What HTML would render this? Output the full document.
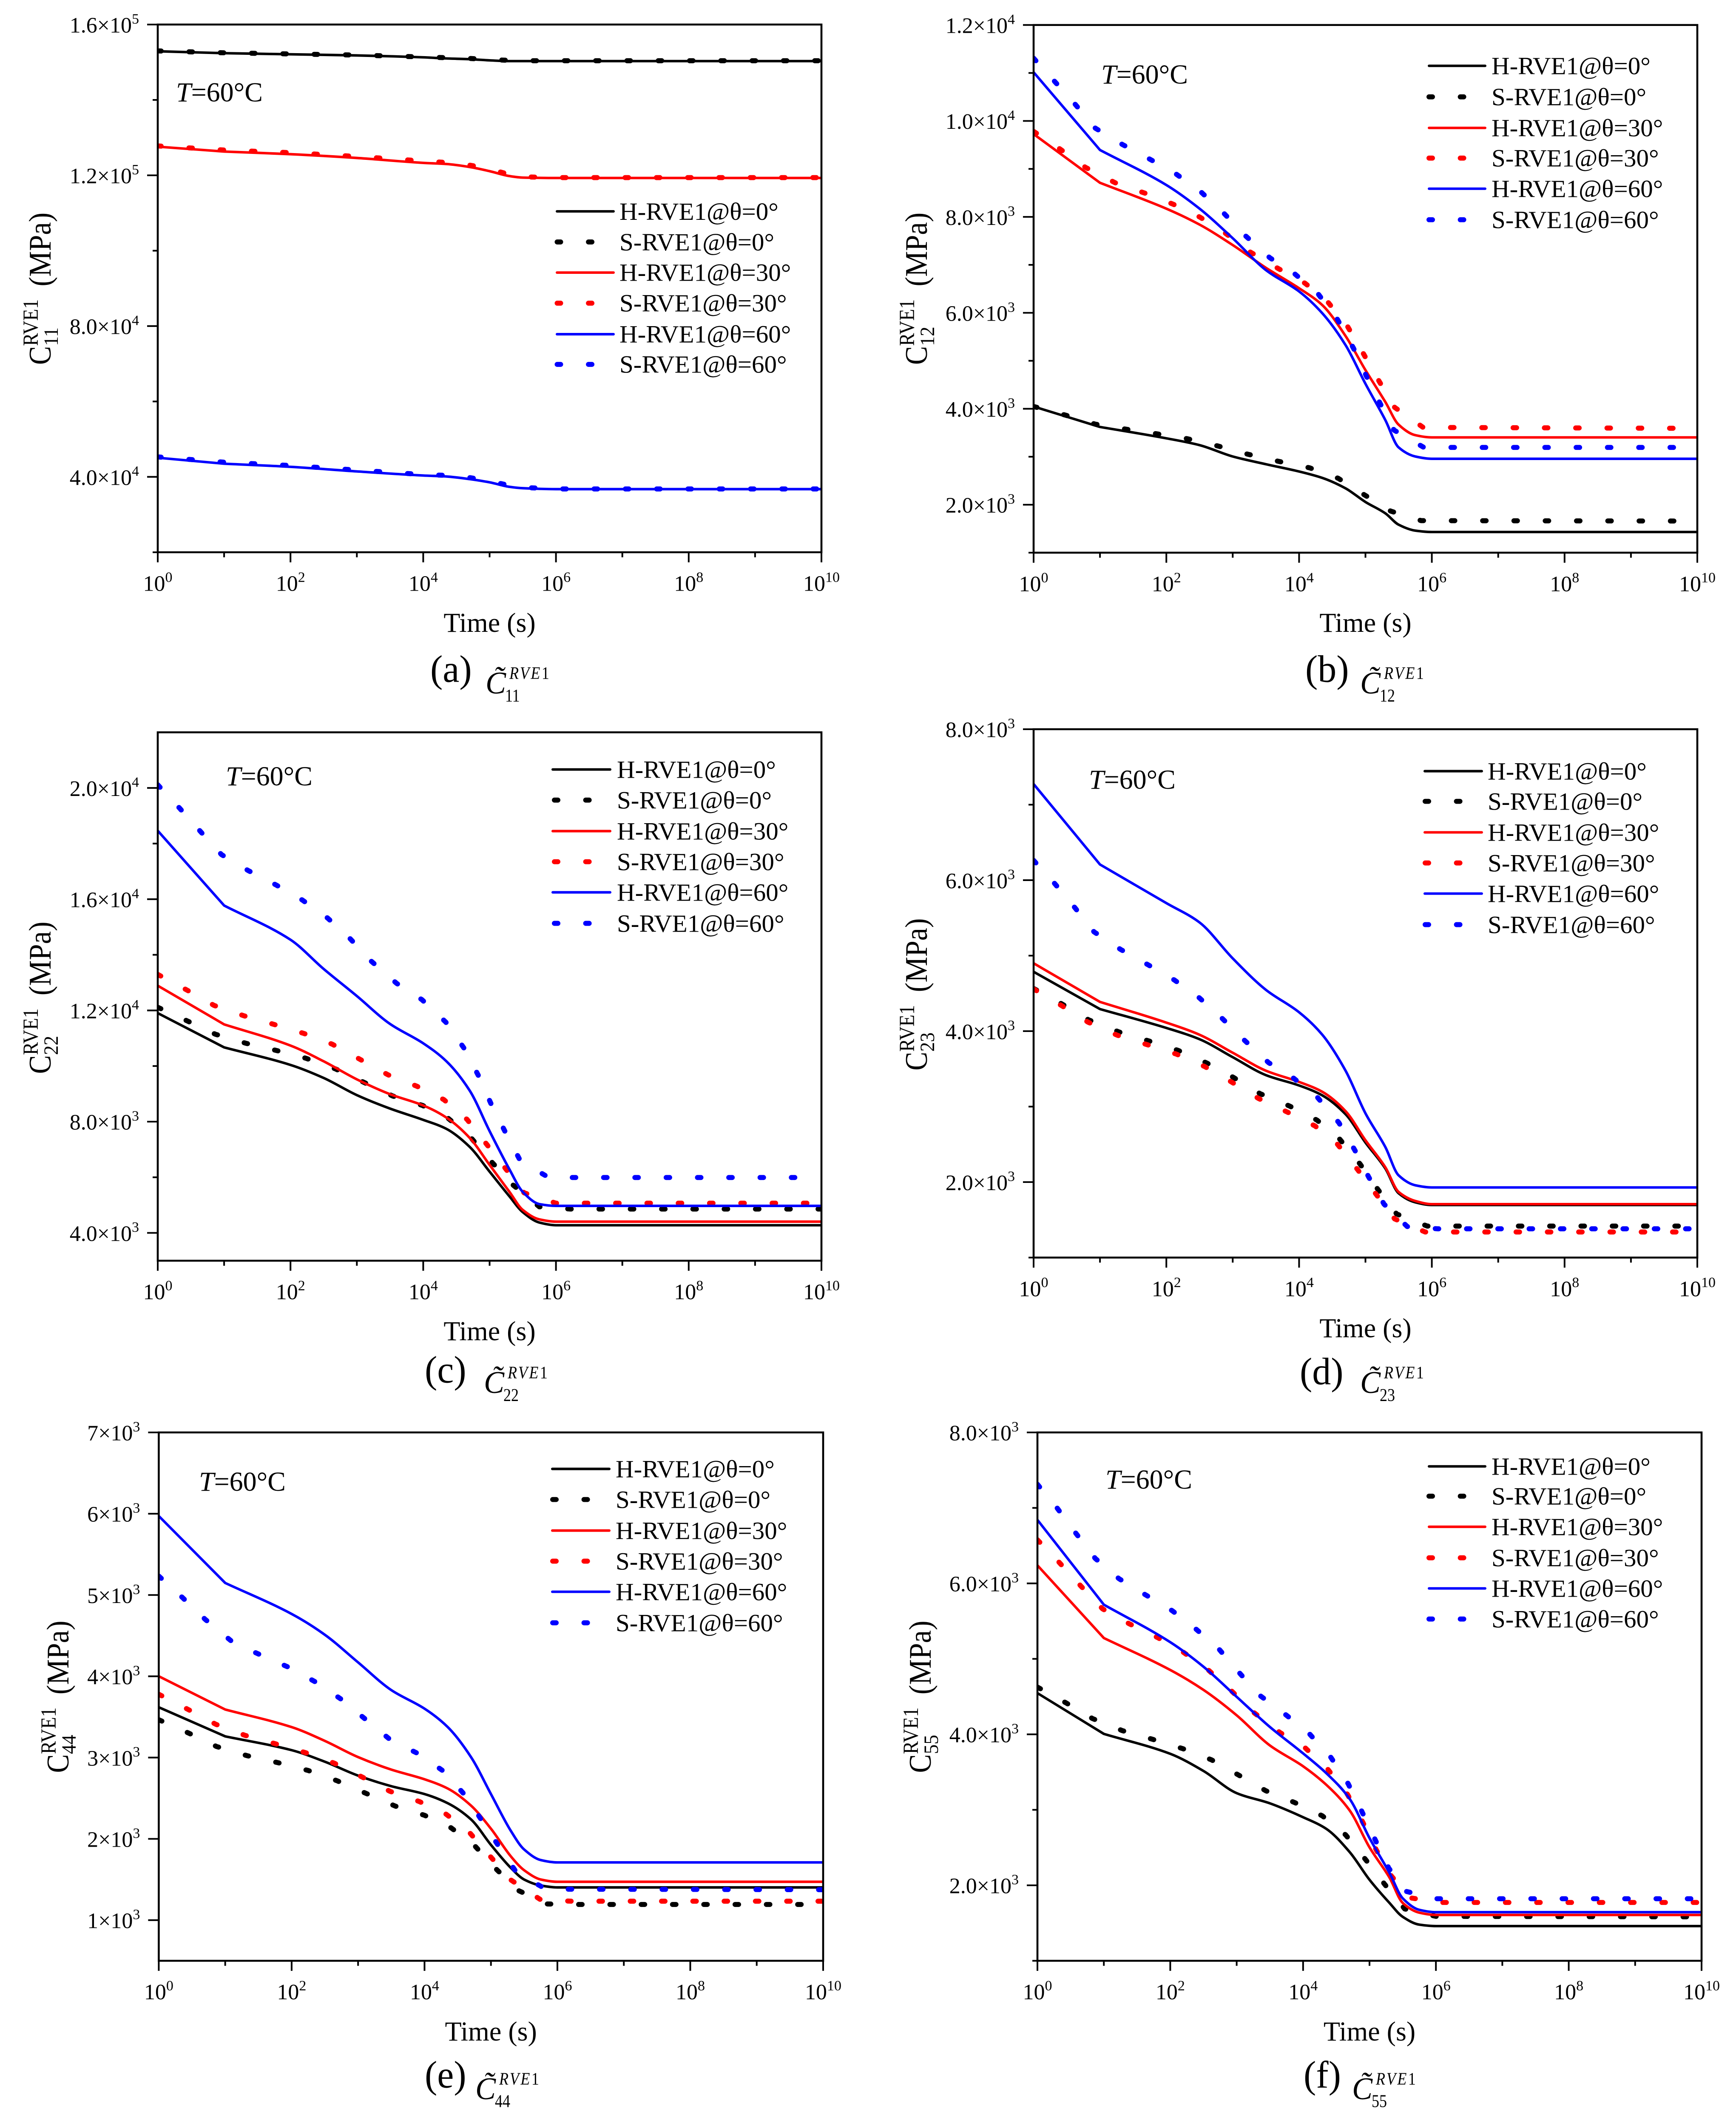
<!DOCTYPE html>
<html lang="en">
<head>
<meta charset="utf-8">
<title>RVE1 relaxation moduli at T=60°C</title>
<style>
html,body{margin:0;padding:0;background:#fff;width:100%;height:100%;overflow:hidden;}
svg{display:block;position:fixed;left:0;top:0;width:100vw;height:100vh;}
text{font-family:"Liberation Serif","DejaVu Serif",serif;fill:#000;}
</style>
</head>
<body>
<svg id="figure" xmlns="http://www.w3.org/2000/svg" viewBox="0 0 4083 5070" preserveAspectRatio="none">
<rect x="0" y="0" width="4083" height="5070" fill="#ffffff"></rect>
</svg>
<script>
/* ---------- shared axis values (time given as log10 of seconds) ---------- */
const xMajorExp = [0,2,4,6,8,10];
const xMinorExp = [1,3,5,7,9];
const gridTime = [0,1,2,2.5,3,3.5,4,4.35,4.7,5,5.3,5.5,5.75,6,10];
const legendLabels = ['H-RVE1@θ=0°','S-RVE1@θ=0°','H-RVE1@θ=30°','S-RVE1@θ=30°','H-RVE1@θ=60°','S-RVE1@θ=60°'];

/* ---------- panel a: C11 ---------- */
const a_yMajor = [40000,80000,120000,160000];
const a_yMinor = [20000,60000,100000,140000];
const a_time = [0,1,2,3,4,4.35,4.7,5,5.3,5.5,6,10];
const a_h0 = [152900,152400,152100,151800,151300,151000,150800,150500,150300,150300,150300,150300];
const a_s0 = [153000,152500,152200,151900,151400,151200,151000,150700,150500,150400,150400,150400];
const a_h30 = [127600,126300,125600,124600,123300,123000,122200,121100,119800,119400,119300,119300];
const a_s30 = [127800,126700,126000,125000,123800,123400,122700,121700,120200,119600,119400,119400];
const a_h60 = [45070,43500,42660,41450,40360,40100,39400,38550,37350,37000,36740,36740];
const a_s60 = [45300,43900,43000,41800,40600,40400,39800,38900,37700,37200,36800,36800];

/* ---------- panel b: C12 ---------- */
const b_yMajor = [2000,4000,6000,8000,10000,12000];
const b_yMinor = [1000,3000,5000,7000,9000,11000];
const b_h0 = [4047,3621,3384,3242,3005,2844,2692,2559,2341,2057,1820,1583,1460,1431,1431];
const b_h30 = [9726,8711,8171,7839,7413,6939,6512,6161,5517,4806,4142,3668,3450,3403,3403];
const b_h60 = [11015,9394,8664,8171,7555,6891,6446,5991,5327,4521,3763,3194,3005,2957,2957];
const b_s0t = [0,0.48,0.93,1.39,1.85,2.32,2.78,3.23,3.70,4.16,4.59,4.97,5.38,5.84,10];
const b_s0 = [4047,3867,3678,3574,3479,3374,3223,3052,2901,2768,2550,2218,1867,1668,1659];
const b_s30t = [0,0.40,0.78,1.23,1.68,2.10,2.51,2.89,3.26,3.69,4.09,4.42,4.73,4.97,5.20,5.44,5.87,10];
const b_s30 = [9782,9413,9033,8711,8493,8266,7991,7659,7270,6920,6616,6247,5716,5147,4588,4029,3611,3592];
const b_s60t = [0,0.31,0.63,0.93,1.34,1.75,2.15,2.52,2.86,3.18,3.56,3.94,4.29,4.58,4.82,5.01,5.22,5.43,5.88,10];
const b_s60 = [11308,10834,10342,9849,9507,9204,8891,8522,8086,7621,7147,6806,6389,5858,5261,4692,4114,3555,3194,3194];

/* ---------- panel c: C22 ---------- */
const c_yMajor = [4000,8000,12000,16000,20000];
const c_yMinor = [6000,10000,14000,18000];
const c_h0 = [11903,10672,10040,9571,8955,8470,8065,7741,7093,6202,5312,4745,4372,4275,4275];
const c_h30 = [12890,11498,10737,10170,9522,8988,8583,8146,7417,6445,5474,4826,4486,4405,4405];
const c_h60 = [18461,15773,14542,13490,12518,11514,10818,10170,9117,7660,6283,5474,5036,4972,4972];
const c_s0t = [0,0.44,0.87,1.33,1.79,2.23,2.68,3.11,3.54,3.99,4.38,4.71,5.01,5.34,5.75,6.22,10];
const c_s0 = [12113,11627,11142,10818,10559,10283,9895,9409,8923,8583,8113,7449,6607,5749,4939,4858,4858];
const c_s30t = [0,0.43,0.85,1.30,1.75,2.20,2.63,3.04,3.47,3.90,4.31,4.66,4.96,5.25,5.52,6.0,10];
const c_s30 = [13295,12745,12178,11806,11498,11174,10785,10251,9684,9279,8793,8081,7174,6283,5441,5069,5069];
const c_s60t = [0,0.33,0.64,0.96,1.37,1.79,2.18,2.56,2.90,3.22,3.60,3.98,4.34,4.62,4.84,5.03,5.24,5.46,5.89,10];
const c_s60 = [20113,19271,18445,17603,17020,16502,15967,15320,14575,13765,12971,12388,11579,10623,9619,8599,7611,6607,5992,5992];

/* ---------- panel d: C23 ---------- */
const d_yMajor = [2000,4000,6000,8000];
const d_yMinor = [1000,3000,5000,7000];
const d_h0 = [4786,4292,4042,3893,3655,3417,3280,3149,2899,2524,2179,1851,1732,1696,1696];
const d_h30 = [4899,4387,4113,3952,3714,3476,3327,3196,2940,2554,2196,1869,1750,1708,1708];
const d_h60 = [7274,6208,5696,5440,4964,4547,4250,3952,3476,2911,2464,2089,1958,1929,1929];
const d_s0t = [0,0.42,0.83,1.29,1.74,2.18,2.61,3.01,3.41,3.86,4.27,4.61,4.92,5.19,5.47,5.93,10];
const d_s0 = [4565,4363,4149,3988,3869,3744,3577,3387,3173,3006,2821,2571,2238,1899,1577,1417,1417];
const d_s30t = [0,0.42,0.82,1.26,1.71,2.15,2.58,2.98,3.39,3.82,4.24,4.58,4.88,5.16,5.44,5.90,10];
const d_s30 = [4559,4339,4119,3946,3821,3696,3530,3327,3107,2929,2744,2500,2167,1839,1512,1339,1339];
const d_s60t = [0,0.32,0.62,0.91,1.31,1.72,2.12,2.49,2.83,3.16,3.54,3.92,4.28,4.60,4.84,5.05,5.28,5.63,6.09,10];
const d_s60 = [6262,5952,5637,5315,5083,4881,4678,4446,4178,3893,3583,3375,3119,2786,2423,2065,1708,1411,1381,1381];

/* ---------- panel e: C44 ---------- */
const e_yMajor = [1000,2000,3000,4000,5000,6000,7000];
const e_yMinor = [];
const e_h0 = [3619,3261,3091,2949,2778,2648,2551,2438,2239,1926,1642,1500,1426,1403,1403];
const e_h30 = [4000,3591,3375,3205,3006,2852,2733,2619,2409,2125,1784,1614,1500,1472,1472];
const e_h60 = [5972,5148,4767,4511,4171,3830,3602,3375,3006,2551,2097,1869,1739,1710,1710];
const e_s0t = [0,0.45,0.87,1.33,1.79,2.25,2.68,3.11,3.56,4.0,4.40,4.75,5.07,5.40,5.85,6.33,10];
const e_s0 = [3466,3301,3136,3023,2938,2841,2716,2563,2403,2290,2136,1920,1636,1369,1199,1193,1193];
const e_s30t = [0,0.43,0.86,1.30,1.75,2.20,2.64,3.06,3.48,3.92,4.31,4.67,4.99,5.30,5.75,6.21,10];
const e_s30 = [3779,3597,3409,3273,3171,3063,2932,2761,2585,2460,2313,2085,1784,1494,1250,1233,1233];
const e_s60t = [0,0.36,0.70,1.12,1.55,1.98,2.38,2.76,3.11,3.49,3.91,4.29,4.62,4.88,5.14,5.39,5.83,10];
const e_s60 = [5233,4966,4699,4415,4256,4102,3921,3710,3472,3216,3046,2830,2528,2205,1881,1580,1381,1375];

/* ---------- panel f: C55 ---------- */
const f_yMajor = [2000,4000,6000,8000];
const f_yMinor = [1000,3000,5000,7000];
const f_h0 = [4546,4006,3742,3515,3221,3086,2902,2748,2442,2074,1767,1583,1479,1460,1460];
const f_h30 = [6239,5276,4853,4589,4252,3853,3577,3331,2994,2503,2104,1767,1638,1607,1607];
const f_h60 = [6841,5718,5221,4896,4497,4098,3748,3485,3147,2626,2166,1828,1675,1644,1644];
const f_s0t = [0,0.43,0.83,1.28,1.74,2.19,2.62,3.03,3.44,3.87,4.29,4.64,4.95,5.23,5.53,6.0,10];
const f_s0 = [4626,4417,4209,4049,3933,3810,3663,3460,3252,3098,2920,2669,2331,2012,1687,1589,1583];
const f_s30t = [0,0.33,0.65,0.98,1.38,1.81,2.20,2.58,2.92,3.26,3.65,4.03,4.37,4.67,4.90,5.10,5.33,5.61,6.08,10];
const f_s30 = [6577,6276,5969,5663,5466,5282,5086,4847,4577,4288,4025,3822,3540,3202,2834,2472,2123,1834,1773,1773];
const f_s60t = [0,0.30,0.58,0.87,1.23,1.63,2.03,2.39,2.74,3.04,3.34,3.75,4.09,4.42,4.68,4.89,5.09,5.29,5.55,6.0,10];
const f_s60 = [7313,6994,6663,6331,6061,5847,5638,5393,5123,4816,4521,4252,4012,3693,3344,2969,2595,2227,1920,1822,1822];

/* ---------- layout of each panel ---------- */
const panels = [
 {id:'a',sub:'11',left:371,right:1932,top:58.5,bottom:1317,yMin:20000,yMax:160000,yMajor:a_yMajor,yMinor:a_yMinor,
  series:[[a_time,a_h0],[a_time,a_s0],[a_time,a_h30],[a_time,a_s30],[a_time,a_h60],[a_time,a_s60]],
  lineX:1308,lineEnd:1444,textX:1457,dotX:1310.5,rows:[504,577,650,723,797,869],
  tempX:414,tempY:242,xTitleY:1507,yTitleX:119,yTitleY:870,capX:1012,capY:1626,capCX:1142,capCY:1654},
 {id:'b',sub:'12',left:2431,right:3992,top:59.6,bottom:1318,yMin:1000,yMax:12000,yMajor:b_yMajor,yMinor:b_yMinor,
  series:[[gridTime,b_h0],[b_s0t,b_s0],[gridTime,b_h30],[b_s30t,b_s30],[gridTime,b_h60],[b_s60t,b_s60]],
  lineX:3359,lineEnd:3494,textX:3508,dotX:3361,rows:[157,231,305,377,450,524],
  tempX:2590,tempY:199,xTitleY:1507,yTitleX:2180,yTitleY:870,capX:3070,capY:1626,capCX:3199,capCY:1654},
 {id:'c',sub:'22',left:371,right:1932,top:1746.4,bottom:3006.5,yMin:3000,yMax:22000,yMajor:c_yMajor,yMinor:c_yMinor,
  series:[[gridTime,c_h0],[c_s0t,c_s0],[gridTime,c_h30],[c_s30t,c_s30],[gridTime,c_h60],[c_s60t,c_s60]],
  lineX:1298,lineEnd:1436,textX:1451,dotX:1304,rows:[1835,1908,1982,2055,2128,2202],
  tempX:531,tempY:1873,xTitleY:3196,yTitleX:119,yTitleY:2561,capX:999,capY:3297,capCX:1138,capCY:3322},
 {id:'d',sub:'23',left:2431,right:3992,top:1739,bottom:2999,yMin:1000,yMax:8000,yMajor:d_yMajor,yMinor:d_yMinor,
  series:[[gridTime,d_h0],[d_s0t,d_s0],[gridTime,d_h30],[d_s30t,d_s30],[gridTime,d_h60],[d_s60t,d_s60]],
  lineX:3349,lineEnd:3486,textX:3499,dotX:3352,rows:[1839,1911,1985,2058,2131,2205],
  tempX:2561,tempY:1881,xTitleY:3189,yTitleX:2180,yTitleY:2553,capX:3057,capY:3301,capCX:3199,capCY:3322},
 {id:'e',sub:'44',left:373.4,right:1936,top:3416,bottom:4676,yMin:500,yMax:7000,yMajor:e_yMajor,yMinor:e_yMinor,
  series:[[gridTime,e_h0],[e_s0t,e_s0],[gridTime,e_h30],[e_s30t,e_s30],[gridTime,e_h60],[e_s60t,e_s60]],
  lineX:1297,lineEnd:1434,textX:1448,dotX:1300,rows:[3503,3576,3650,3723,3796,3870],
  tempX:468,tempY:3555,xTitleY:4866,yTitleX:161,yTitleY:4228,capX:999,capY:4978,capCX:1118,capCY:5006},
 {id:'f',sub:'55',left:2440,right:4002,top:3416,bottom:4676,yMin:1000,yMax:8000,yMajor:f_yMajor,yMinor:f_yMinor,
  series:[[gridTime,f_h0],[f_s0t,f_s0],[gridTime,f_h30],[f_s30t,f_s30],[gridTime,f_h60],[f_s60t,f_s60]],
  lineX:3359,lineEnd:3494,textX:3508,dotX:3361,rows:[3497,3568,3641,3715,3788,3861],
  tempX:2600,tempY:3550,xTitleY:4866,yTitleX:2189,yTitleY:4228,capX:3066,capY:4978,capCX:3180,capCY:5006}
];

const seriesColors = ['#000000','#000000','#ff0000','#ff0000','#0000ff','#0000ff'];
const seriesKeys = ['h-rve1-0','s-rve1-0','h-rve1-30','s-rve1-30','h-rve1-60','s-rve1-60'];
const NS = 'http://www.w3.org/2000/svg';
const TEXT_STRETCH = 1.02;
const LINE_WIDTH = 6;
const DOT_WIDTH = 12;
const DOT_DASH = '8 65.6';
const root = document.getElementById('figure');

function make(tag, parent, attrs) {
  const el = document.createElementNS(NS, tag);
  for (const k in attrs) el.setAttribute(k, attrs[k]);
  parent.appendChild(el);
  return el;
}

function addText(parent, name, x, y, size, content, opts) {
  const o = opts || {};
  const stretch = o.stretch || TEXT_STRETCH;
  const el = document.createElementNS(NS, 'text');
  
  
  el.setAttribute('transform', 'translate(' + x + ',' + y + ') scale(1,' + stretch + ')');
  el.setAttribute('font-size', size);
  if (o.anchor) el.setAttribute('text-anchor', o.anchor);
  if (o.italic) el.setAttribute('font-style', 'italic');
  if (o.spacing) el.setAttribute('letter-spacing', o.spacing);
  el.textContent = content;
  parent.appendChild(el);
  return el;
}

function addPower(parent, name, x, y, anchor, base, exponent) {
  const el = addText(parent, name, x, y, 52, base, {anchor: anchor});
  const sup = document.createElementNS(NS, 'tspan');
  sup.setAttribute('font-size', '34');
  sup.setAttribute('dy', '-21');
  sup.textContent = exponent;
  el.appendChild(sup);
  return el;
}

/* straight first decade, then a monotone cubic through the remaining points */
function smoothPath(xs, ys) {
  let d = 'M' + xs[0].toFixed(1) + ',' + ys[0].toFixed(1) + ' L' + xs[1].toFixed(1) + ',' + ys[1].toFixed(1);
  const n = xs.length;
  const slope = [];
  for (let i = 1; i < n - 1; i++) slope[i] = (ys[i + 1] - ys[i]) / (xs[i + 1] - xs[i]);
  const tan = [];
  tan[1] = slope[1];
  tan[n - 1] = slope[n - 2];
  for (let i = 2; i < n - 1; i++) {
    const a = slope[i - 1], b = slope[i];
    tan[i] = a * b <= 0 ? 0 : 2 * a * b / (a + b);
  }
  for (let i = 1; i < n - 1; i++) {
    const h = (xs[i + 1] - xs[i]) / 3;
    d += ' C' + (xs[i] + h).toFixed(1) + ',' + (ys[i] + tan[i] * h).toFixed(1) + ' ' +
         (xs[i + 1] - h).toFixed(1) + ',' + (ys[i + 1] - tan[i + 1] * h).toFixed(1) + ' ' +
         xs[i + 1].toFixed(1) + ',' + ys[i + 1].toFixed(1);
  }
  return d;
}

function buildPanel(p) {
  const g = make('g', root, {});
  
  

  const xScale = function (e) { return p.left + (e / 10) * (p.right - p.left); };
  const yScale = function (v) { return p.bottom - (v - p.yMin) / (p.yMax - p.yMin) * (p.bottom - p.top); };

  /* clip to the plot area */
  const clip = make('clipPath', g, {id: 'plot-clip-' + p.id});
  make('rect', clip, {x: p.left, y: p.top, width: p.right - p.left, height: p.bottom - p.top});
  const plot = make('g', g, {'clip-path': 'url(#plot-clip-' + p.id + ')'});
  
  

  /* series */
  p.series.forEach(function (s, i) {
    const xs = s[0].map(xScale);
    const ys = s[1].map(yScale);
    let mark;
    if (i % 2 === 0) {
      mark = make('path', plot, {d: smoothPath(xs, ys), fill: 'none', stroke: seriesColors[i], 'stroke-linejoin': 'round', 'stroke-width': LINE_WIDTH});
    } else {
      const pts = xs.map(function (x, j) { return x.toFixed(1) + ',' + ys[j].toFixed(1); }).join(' ');
      mark = make('polyline', plot, {points: pts, fill: 'none', stroke: seriesColors[i], 'stroke-linejoin': 'round', 'stroke-linecap': 'round', 'stroke-width': DOT_WIDTH, 'stroke-dasharray': DOT_DASH});
    }
    
    
  });

  /* frame */
  const frame = make('rect', g, {x: p.left, y: p.top, width: p.right - p.left, height: p.bottom - p.top, fill: 'none', stroke: '#000', 'stroke-width': 4.6});
  
  

  /* x ticks */
  xMajorExp.forEach(function (e) {
    const t = make('line', g, {x1: xScale(e), x2: xScale(e), y1: p.bottom, y2: p.bottom + 24, stroke: '#000', 'stroke-width': 4});
    
    
    addPower(g, 'x-tick-label', xScale(e), p.bottom + 92, 'middle', '10', String(e));
  });
  xMinorExp.forEach(function (e) {
    const t = make('line', g, {x1: xScale(e), x2: xScale(e), y1: p.bottom, y2: p.bottom + 12, stroke: '#000', 'stroke-width': 4});
    
    
  });

  /* y ticks */
  p.yMajor.forEach(function (v) {
    const t = make('line', g, {x1: p.left - 25, x2: p.left, y1: yScale(v), y2: yScale(v), stroke: '#000', 'stroke-width': 4});
    
    
    const power = Math.floor(Math.log10(v));
    const mant = v / Math.pow(10, power);
    const mantText = p.id === 'e' ? String(Math.round(mant)) : mant.toFixed(1);
    addPower(g, 'y-tick-label', p.left - 44, yScale(v) + 19, 'end', mantText + '×10', String(power));
  });
  p.yMinor.forEach(function (v) {
    const t = make('line', g, {x1: p.left - 12, x2: p.left, y1: yScale(v), y2: yScale(v), stroke: '#000', 'stroke-width': 4});
    
    
  });

  /* axis titles */
  addText(g, 'x-axis-title', (p.left + p.right) / 2, p.xTitleY, 64, 'Time (s)', {anchor: 'middle', stretch: 1.03});
  const yt = make('g', g, {transform: 'translate(' + p.yTitleX + ',' + p.yTitleY + ') rotate(-90)'});
  
  
  addText(yt, 'y-title-symbol', 0, 0, 67, 'C', {stretch: 1.1});
  addText(yt, 'y-title-superscript', 45, -30, 46, 'RVE1', {stretch: 1.11});
  addText(yt, 'y-title-subscript', 45, 17, 46, p.sub, {stretch: 1.03});
  addText(yt, 'y-title-unit', 187, 0, 69, '(MPa)', {stretch: 1.07});

  /* temperature note */
  const temp = addText(g, 'temperature-label', p.tempX, p.tempY, 64, '', {stretch: 1.03});
  const tItalic = document.createElementNS(NS, 'tspan');
  tItalic.setAttribute('font-style', 'italic');
  tItalic.textContent = 'T';
  temp.appendChild(tItalic);
  const tRest = document.createElementNS(NS, 'tspan');
  tRest.textContent = '=60°C';
  temp.appendChild(tRest);

  /* legend */
  const legend = make('g', g, {});
  
  
  legendLabels.forEach(function (label, i) {
    const y = p.rows[i];
    const entry = make('g', legend, {});
    
    
    let sample;
    if (i % 2 === 0) {
      sample = make('line', entry, {x1: p.lineX + 2, x2: p.lineEnd - 1, y1: y, y2: y, stroke: seriesColors[i], 'stroke-width': LINE_WIDTH, 'stroke-linecap': 'round'});
    } else {
      sample = make('line', entry, {x1: p.dotX, x2: p.dotX + 82, y1: y, y2: y, stroke: seriesColors[i], 'stroke-width': DOT_WIDTH, 'stroke-linecap': 'round', 'stroke-dasharray': DOT_DASH});
    }
    
    
    addText(entry, 'legend-label', p.textX, y + 20, 59, label, {stretch: 1.0});
  });

  /* caption */
  const cap = make('g', g, {});
  
  
  addText(cap, 'caption-letter', p.capX, p.capY, 88, '(' + p.id + ')', {stretch: 1.04});
  addText(cap, 'caption-symbol', p.capCX, p.capCY, 72, 'C\u0303', {italic: true, stretch: 1.05});
  const sup = addText(cap, 'caption-superscript', p.capCX + 56, p.capCY - 35, 36, 'RVE', {italic: true, spacing: 3.5, stretch: 1.17});
  const one = document.createElementNS(NS, 'tspan');
  one.setAttribute('font-style', 'normal');
  one.textContent = '1';
  sup.appendChild(one);
  addText(cap, 'caption-subscript', p.capCX + 46, p.capCY + 19, 36, p.sub, {stretch: 1.18});
}

panels.forEach(buildPanel);
</script>
</body>
</html>
